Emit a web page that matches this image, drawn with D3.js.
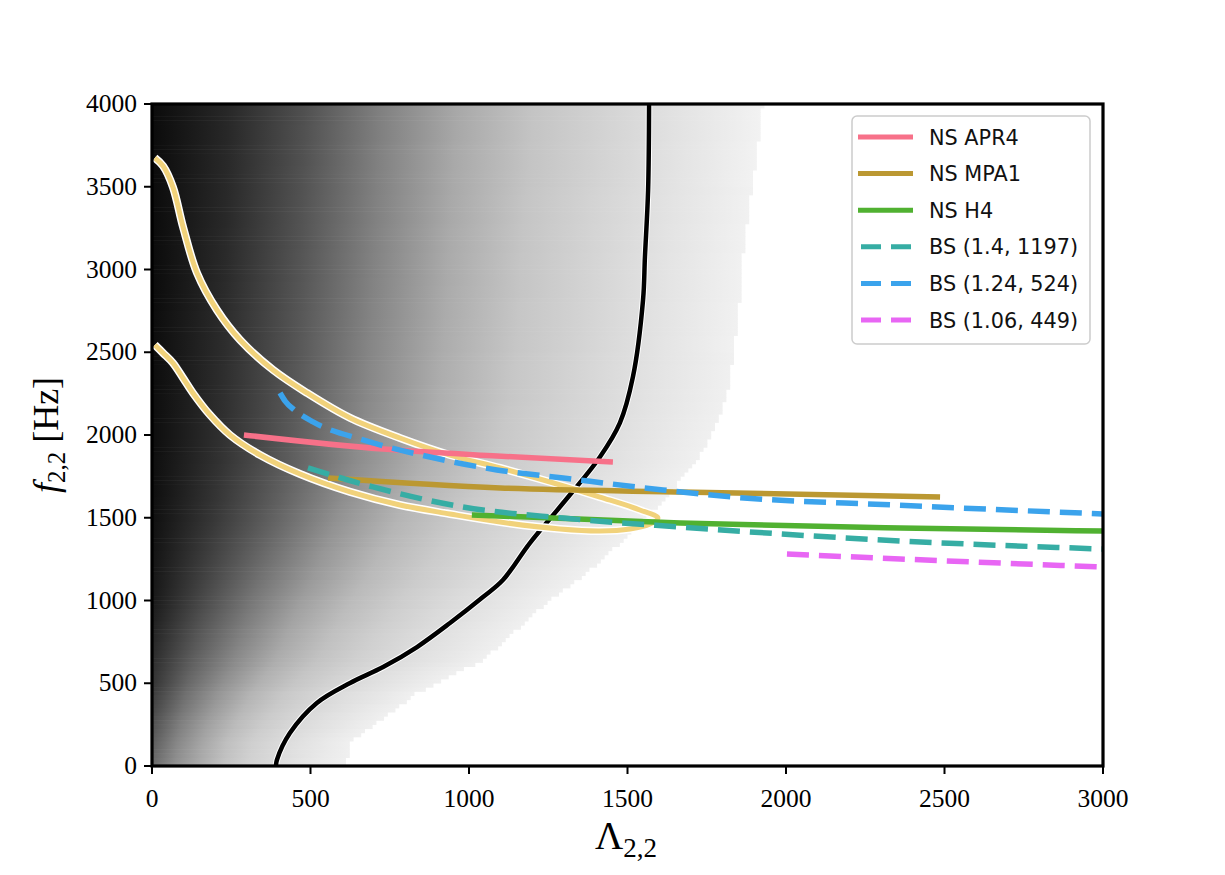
<!DOCTYPE html>
<html><head><meta charset="utf-8">
<script src="https://cdn.jsdelivr.net/npm/d3@7"></script>
<style>body{margin:0;background:#fff}svg{display:block}</style>
</head><body>
<svg id="chart" width="1225" height="875"></svg>
<script>
// ---- axes ----
const xTicks = [0, 500, 1000, 1500, 2000, 2500, 3000];
const yTicks = [0, 500, 1000, 1500, 2000, 2500, 3000, 3500, 4000];

// ---- background shading (grey level) ----
// rows of f, columns as fraction of the masked edge
const shadeF = [0, 250, 500, 1000, 1500, 2000, 3000, 4000];
const shadeT = [0, 0.125, 0.25, 0.375, 0.5, 0.625, 0.75, 0.875, 1];
const shade0 = [108, 146, 172, 195, 210, 219, 227, 234, 240];
const shade250 = [80, 126, 160, 187, 204, 215, 224, 232, 240];
const shade500 = [52, 104, 145, 178, 198, 211, 222, 231, 240];
const shade1000 = [24, 72, 118, 158, 187, 205, 218, 229, 240];
const shade1500 = [15, 55, 99, 145, 180, 202, 215, 228, 240];
const shade2000 = [13, 48, 90, 138, 175, 200, 214, 228, 240];
const shade3000 = [11, 42, 84, 130, 170, 197, 213, 228, 241];
const shade4000 = [11, 40, 80, 128, 168, 196, 212, 228, 242];
const shadeRows = [shade0, shade250, shade500, shade1000, shade1500, shade2000, shade3000, shade4000];

// edge of the shaded (non-masked) region
const edgeF = [0, 139, 441, 640, 1003, 1227, 1347, 1486, 1625, 1746, 1849, 1952, 2073, 2230, 2471, 2816, 3076, 3402, 3704, 4000];
const edgeL = [615, 625, 836, 1044, 1256, 1413, 1476, 1549, 1625, 1675, 1719, 1751, 1782, 1814, 1833, 1855, 1864, 1886, 1909, 1928];

// black contour
const contourL = [391, 394, 435, 520, 625, 729, 836, 940, 1044, 1107, 1192, 1297, 1413, 1476, 1517, 1549, 1555, 1565, 1568];
const contourF = [0, 36, 199, 381, 502, 598, 719, 864, 1021, 1124, 1347, 1589, 1867, 2073, 2350, 2816, 3076, 3480, 4000];

// yellow contour (loop)
const yellowL = [9, 35, 66, 98, 142, 205, 278, 382, 489, 625, 782, 940, 1098, 1256, 1413, 1539, 1596,
                 1571, 1508, 1413, 1287, 1098, 940, 782, 625, 467, 341, 246, 183, 129, 98, 66, 35, 9];
const yellowF = [3674, 3625, 3498, 3257, 2979, 2755, 2574, 2393, 2254, 2103, 1982, 1879, 1801, 1716, 1625, 1547, 1498,
                 1462, 1432, 1420, 1432, 1474, 1523, 1577, 1656, 1764, 1879, 2000, 2121, 2254, 2344, 2435, 2495, 2544];

// series
const seriesNames = ["NS APR4", "NS MPA1", "NS H4", "BS (1.4, 1197)", "BS (1.24, 524)", "BS (1.06, 449)"];
const seriesColors = ["#f77189", "#bb9832", "#50b131", "#36ada4", "#3ba3ec", "#e866f4"];
const seriesDashed = [false, false, false, true, true, true];
const apr4L = [290, 729, 1088, 1454];
const apr4F = [2000, 1915, 1873, 1837];
const mpa1L = [555, 1098, 1666, 2486];
const mpa1F = [1740, 1680, 1656, 1625];
const h4L = [1009, 1666, 2360, 3000];
const h4F = [1517, 1468, 1438, 1420];
const bs14L = [492, 697, 981, 1297, 1666, 2360, 3000];
const bs14F = [1801, 1686, 1565, 1498, 1444, 1360, 1311];
const bs124L = [404, 420, 450, 508, 666, 877, 1088, 1297, 1612, 1833, 2338, 3000];
const bs124F = [2254, 2205, 2150, 2079, 1970, 1867, 1789, 1740, 1668, 1625, 1577, 1523];
const bs106L = [2003, 2360, 3000];
const bs106F = [1281, 1251, 1202];
const seriesL = [apr4L, mpa1L, h4L, bs14L, bs124L, bs106L];
const seriesF = [apr4F, mpa1F, h4F, bs14F, bs124F, bs106F];

// ---- drawing ----
const svg = d3.select("#chart");
const x = d3.scaleLinear().domain([0, 3000]).range([152, 1103]);
const y = d3.scaleLinear().domain([0, 4000]).range([766, 104]);

const defs = svg.append("defs");
defs.append("clipPath").attr("id", "plotclip").append("rect")
  .attr("x", x(0)).attr("y", y(4000)).attr("width", x(3000) - x(0)).attr("height", y(0) - y(4000));

const plot = svg.append("g").attr("clip-path", "url(#plotclip)");

// background heat rows
const edgeAt = d3.scaleLinear().domain(edgeF).range(edgeL);
const colStep = 12, rowStep = 25;
const heat = plot.append("g");
for (let f0 = 0; f0 < 4000; f0 += rowStep) {
  const fc = f0 + rowStep / 2;
  const edge = Math.round(edgeAt(fc) / colStep) * colStep;
  const id = "g" + f0;
  const grad = defs.append("linearGradient").attr("id", id)
    .attr("gradientUnits", "userSpaceOnUse")
    .attr("x1", x(0)).attr("x2", x(edge)).attr("y1", 0).attr("y2", 0);
  shadeT.forEach((t, j) => {
    const g = Math.round(d3.scaleLinear().domain(shadeF).range(shadeRows.map(r => r[j]))(fc));
    grad.append("stop").attr("offset", t).attr("stop-color", `rgb(${g},${g},${g})`);
  });
  heat.append("rect")
    .attr("x", x(0)).attr("width", x(edge) - x(0))
    .attr("y", y(f0 + rowStep) - 0.3).attr("height", y(f0) - y(f0 + rowStep) + 0.6)
    .attr("fill", `url(#${id})`);
}

const curve = d3.line().x(d => x(d[0])).y(d => y(d[1])).curve(d3.curveCatmullRom.alpha(0.5));

// black contour with white halo
const cData = contourL.map((l, i) => [l, contourF[i]]);
plot.append("path").attr("d", curve(cData)).attr("fill", "none").attr("stroke", "#fff").attr("stroke-width", 6.5);
plot.append("path").attr("d", curve(cData)).attr("fill", "none").attr("stroke", "#000").attr("stroke-width", 4.5);

// yellow contour with white halo
const yData = yellowL.map((l, i) => [l, yellowF[i]]);
plot.append("path").attr("d", curve(yData)).attr("fill", "none").attr("stroke", "#fff").attr("stroke-width", 8).attr("stroke-linejoin", "round");
plot.append("path").attr("d", curve(yData)).attr("fill", "none").attr("stroke", "#f1d27b").attr("stroke-width", 5).attr("stroke-linejoin", "round");

// series lines
const sLine = d3.line().x(d => x(d[0])).y(d => y(d[1])).curve(d3.curveMonotoneX);
seriesNames.forEach((name, i) => {
  const pts = seriesL[i].map((l, k) => [l, seriesF[i][k]]);
  plot.append("path").attr("d", sLine(pts)).attr("fill", "none")
    .attr("stroke", seriesColors[i]).attr("stroke-width", 5.5)
    .attr("stroke-dasharray", seriesDashed[i] ? "22,10" : null);
});

// frame
svg.append("rect").attr("x", x(0)).attr("y", y(4000)).attr("width", x(3000) - x(0)).attr("height", y(0) - y(4000))
  .attr("fill", "none").attr("stroke", "#000").attr("stroke-width", 3.2);

// ticks
const tickFont = "'Liberation Serif', 'DejaVu Serif', serif";
const gx = svg.append("g");
xTicks.forEach(v => {
  gx.append("line").attr("x1", x(v)).attr("x2", x(v)).attr("y1", y(0)).attr("y2", y(0) + 8).attr("stroke", "#000").attr("stroke-width", 2);
  gx.append("text").attr("x", x(v)).attr("y", 807).attr("text-anchor", "middle")
    .attr("font-family", tickFont).attr("font-size", 25.5).text(v);
});
const gy = svg.append("g");
yTicks.forEach(v => {
  gy.append("line").attr("x1", x(0) - 8).attr("x2", x(0)).attr("y1", y(v)).attr("y2", y(v)).attr("stroke", "#000").attr("stroke-width", 2);
  gy.append("text").attr("x", 137).attr("y", y(v) + 8).attr("text-anchor", "end")
    .attr("font-family", tickFont).attr("font-size", 25.5).text(v);
});

// axis labels
const xl = svg.append("text").attr("x", 595).attr("y", 849).attr("font-family", tickFont).attr("font-size", 39);
xl.append("tspan").text("Λ");
xl.append("tspan").attr("font-size", 27).attr("dy", 8).text("2,2");

const yl = svg.append("text").attr("transform", "translate(58,435) rotate(-90)").attr("text-anchor", "middle")
  .attr("font-family", tickFont).attr("font-size", 36);
yl.append("tspan").attr("font-style", "italic").text("f");
yl.append("tspan").attr("font-size", 25).attr("dy", 7).text("2,2");
yl.append("tspan").attr("dy", -7).text(" [Hz]");

// legend
const leg = svg.append("g");
leg.append("rect").attr("x", 852).attr("y", 116).attr("width", 238).attr("height", 228).attr("rx", 5)
  .attr("fill", "#fff").attr("fill-opacity", 0.8).attr("stroke", "#cccccc").attr("stroke-width", 1.5);
const legY = d3.scaleLinear().domain([0, 5]).range([137, 320]);
seriesNames.forEach((name, i) => {
  const yy = legY(i);
  leg.append("line").attr("x1", 858).attr("x2", 913).attr("y1", yy).attr("y2", yy)
    .attr("stroke", seriesColors[i]).attr("stroke-width", 5)
    .attr("stroke-dasharray", seriesDashed[i] ? "20,10" : null)
    .attr("transform", seriesDashed[i] ? "translate(3,0)" : null);
  leg.append("text").attr("x", 929).attr("y", yy + 7.5)
    .attr("font-family", "'DejaVu Sans', sans-serif").attr("font-size", 20.8).attr("fill", "#111").text(name);
});
</script>
</body></html>
